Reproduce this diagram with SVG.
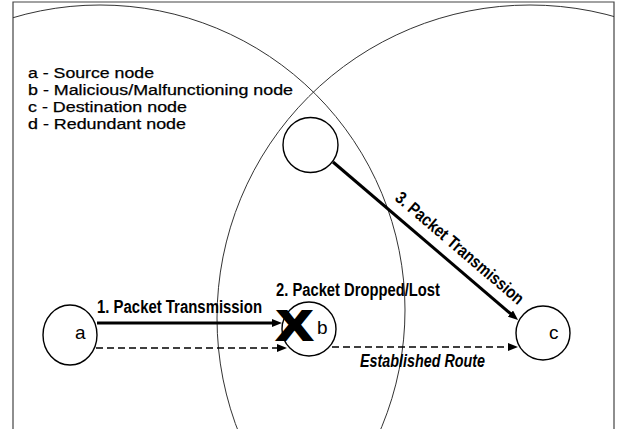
<svg xmlns="http://www.w3.org/2000/svg" width="625" height="429" viewBox="0 0 625 429">
<style>
.frame{fill:none;stroke:#444;stroke-width:1.2}
.range{fill:none;stroke:#333;stroke-width:1}
.node{fill:#fff;stroke:#000;stroke-width:1.4}
.lbl{font-family:"Liberation Sans",Arial,sans-serif;font-size:19px;fill:#000}
.legend{font-family:"Liberation Sans",Arial,sans-serif;font-size:14.7px;fill:#000;stroke:#000;stroke-width:0.25}
.bold{font-family:"Liberation Sans",Arial,sans-serif;font-size:17.5px;font-weight:bold;fill:#000}
.solid{fill:none;stroke:#000;stroke-width:3}
.dash{fill:none;stroke:#000;stroke-width:1.7;stroke-dasharray:7 4}
</style>
<defs>
<clipPath id="clip"><rect x="13" y="2" width="601" height="427"/></clipPath>
<marker id="ah" markerUnits="userSpaceOnUse" viewBox="0 0 10 8" markerWidth="10" markerHeight="8" refX="1" refY="4" orient="auto"><path d="M0,0 L10,4 L0,8 z" fill="#000"/></marker>
</defs>
<rect x="0" y="0" width="625" height="429" fill="#fff"/>
<path class="frame" d="M13,429 V2 H614 V429"/>
<g id="ranges" clip-path="url(#clip)">
<circle class="range" cx="100" cy="310" r="305"/>
<circle class="range" cx="530" cy="318" r="313"/>
</g>
<g id="legend">
<text class="legend" x="28" y="78" textLength="126" lengthAdjust="spacingAndGlyphs">a - Source node</text>
<text class="legend" x="28" y="95" textLength="265" lengthAdjust="spacingAndGlyphs">b - Malicious/Malfunctioning node</text>
<text class="legend" x="28" y="112" textLength="159" lengthAdjust="spacingAndGlyphs">c - Destination node</text>
<text class="legend" x="28" y="129" textLength="158" lengthAdjust="spacingAndGlyphs">d - Redundant node</text>
</g>
<g id="connectors">
<line class="solid" x1="97" y1="323" x2="273" y2="323" marker-end="url(#ah)"/>
<line class="dash" x1="96" y1="348" x2="278" y2="348" marker-end="url(#ah)"/>
<line class="dash" x1="332" y1="347" x2="509" y2="347" marker-end="url(#ah)"/>
<line class="solid" x1="333" y1="162" x2="511.2" y2="314.2" marker-end="url(#ah)"/>
<text class="bold" x="97" y="313" font-size="16" textLength="165" lengthAdjust="spacingAndGlyphs">1. Packet Transmission</text>
<text class="bold" x="276" y="296" textLength="164" lengthAdjust="spacingAndGlyphs">2. Packet Dropped/Lost</text>
<text class="bold" x="360" y="367" font-style="italic" textLength="125" lengthAdjust="spacingAndGlyphs">Established Route</text>
<text class="bold" transform="translate(394,199.5) rotate(40.5)" textLength="163" lengthAdjust="spacingAndGlyphs">3. Packet Transmission</text>
</g>
<g id="node-a">
<ellipse class="node" cx="70" cy="335" rx="27" ry="30"/>
<text class="lbl" x="75" y="339">a</text>
</g>
<g id="node-b">
<circle class="node" cx="309" cy="329" r="27"/>
<text class="lbl" x="317" y="334">b</text>
<text x="277" y="340" font-family="'Liberation Sans',Arial,sans-serif" font-size="42" font-weight="bold" stroke="#000" stroke-width="2.2" textLength="35" lengthAdjust="spacingAndGlyphs">X</text>
</g>
<g id="node-c">
<circle class="node" cx="543" cy="333" r="27"/>
<text class="lbl" x="549" y="339">c</text>
</g>
<g id="node-d">
<circle class="node" cx="310.5" cy="145" r="27.5"/>
</g>
</svg>
